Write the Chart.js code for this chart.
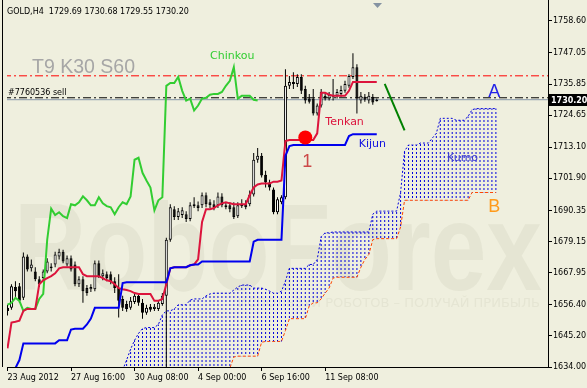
<!DOCTYPE html>
<html>
<head>
<meta charset="utf-8">
<script src="https://cdn.jsdelivr.net/npm/chart.js@4.4.1/dist/chart.umd.min.js"></script>
<style>
  html, body { margin: 0; padding: 0; background: #efefde; }
  canvas { display: block; }
</style>
</head>
<body>
<canvas id="chart" width="587" height="388" style="width:587px;height:388px"></canvas>
<script>
// GOLD H4 candles, bar 0 = 23 Aug 2012 00:00
const opens = [
  1655.3, 1655.3, 1662.8, 1663.1, 1658.9, 1673.8, 1669.5, 1668.4, 1665.6, 1666.0,
  1668.4, 1669.5, 1670.9, 1673.8, 1675.5, 1670.9, 1673.1, 1670.9, 1663.8, 1665.6,
  1662.4, 1662.0, 1662.0, 1671.3, 1666.7, 1667.4, 1667.4, 1664.9, 1662.4, 1658.5,
  1656.7, 1655.3, 1657.4, 1659.6, 1657.1, 1653.5, 1655.7, 1654.9, 1654.9, 1656.7,
  1659.6, 1679.8, 1690.8, 1688.0, 1688.7, 1689.0, 1687.3, 1691.9, 1692.2, 1692.2,
  1695.8, 1693.3, 1692.6, 1692.2, 1695.4, 1691.5, 1692.2, 1691.5, 1688.3, 1692.6,
  1692.6, 1692.6, 1696.1, 1708.6, 1710.0, 1703.2, 1700.4, 1697.9, 1689.7, 1693.3,
  1695.1, 1735.2, 1736.6, 1735.9, 1738.4, 1734.1, 1730.6, 1730.6, 1725.2, 1728.1,
  1731.6, 1730.6, 1731.3, 1731.6, 1732.3, 1733.4, 1735.2, 1738.4, 1741.9, 1729.9,
  1731.3, 1729.9, 1731.3, 1729.69
];
const highs = [
  1656.4, 1663.8, 1664.9, 1664.2, 1675.2, 1674.5, 1672.7, 1669.9, 1666.7, 1669.1,
  1673.1, 1671.3, 1675.5, 1676.6, 1676.2, 1674.1, 1674.1, 1672.0, 1666.7, 1666.7,
  1663.5, 1663.8, 1672.3, 1672.3, 1669.1, 1668.4, 1668.4, 1666.3, 1667.4, 1659.6,
  1657.8, 1659.2, 1661.0, 1660.6, 1658.5, 1656.4, 1656.7, 1656.7, 1658.1, 1660.6,
  1680.5, 1692.6, 1691.9, 1691.2, 1691.5, 1690.1, 1693.3, 1695.1, 1693.6, 1696.8,
  1696.8, 1694.4, 1694.0, 1696.8, 1696.5, 1693.3, 1693.3, 1693.3, 1693.3, 1694.4,
  1694.0, 1697.5, 1711.0, 1712.8, 1711.0, 1704.6, 1701.4, 1698.6, 1695.1, 1695.8,
  1741.2, 1738.7, 1740.1, 1739.4, 1739.4, 1735.2, 1732.3, 1734.1, 1728.8, 1734.1,
  1733.0, 1733.0, 1737.7, 1734.1, 1735.2, 1737.0, 1739.4, 1746.9, 1743.0, 1733.0,
  1732.3, 1733.0, 1732.3, 1730.68
];
const lows = [
  1652.5, 1654.6, 1658.9, 1657.1, 1658.1, 1668.4, 1668.4, 1664.9, 1662.8, 1664.9,
  1667.7, 1668.4, 1669.9, 1672.7, 1671.3, 1670.2, 1668.4, 1663.1, 1662.8, 1657.1,
  1659.6, 1661.0, 1661.3, 1666.0, 1665.2, 1664.9, 1663.8, 1660.6, 1651.8, 1654.2,
  1653.9, 1654.6, 1656.7, 1656.0, 1651.4, 1652.8, 1653.9, 1654.2, 1654.2, 1656.0,
  1633.8, 1679.1, 1686.9, 1686.9, 1687.6, 1686.2, 1686.5, 1691.2, 1690.1, 1691.2,
  1691.5, 1691.2, 1690.4, 1691.2, 1691.5, 1690.8, 1689.7, 1687.3, 1687.6, 1691.2,
  1690.8, 1691.9, 1695.4, 1707.5, 1702.2, 1698.6, 1697.5, 1689.0, 1689.0, 1692.6,
  1694.4, 1734.1, 1734.1, 1734.8, 1732.3, 1728.8, 1728.8, 1724.5, 1724.5, 1727.4,
  1729.9, 1729.9, 1729.9, 1730.6, 1731.3, 1732.7, 1734.5, 1737.7, 1725.2, 1728.8,
  1729.5, 1728.8, 1728.4, 1729.55
];
const closes = [
  1654.2, 1663.1, 1661.3, 1657.8, 1673.8, 1669.1, 1670.9, 1665.6, 1663.8, 1668.4,
  1672.0, 1670.2, 1674.5, 1675.5, 1672.0, 1673.1, 1669.1, 1663.8, 1665.6, 1661.3,
  1660.6, 1662.8, 1671.3, 1666.7, 1667.7, 1666.0, 1664.9, 1662.4, 1657.8, 1655.3,
  1654.9, 1657.8, 1659.6, 1657.1, 1653.5, 1655.3, 1654.6, 1655.7, 1657.1, 1659.6,
  1679.8, 1691.5, 1688.0, 1690.1, 1690.4, 1687.3, 1692.2, 1692.6, 1691.2, 1695.8,
  1692.6, 1692.2, 1691.5, 1695.4, 1692.2, 1692.2, 1690.8, 1688.0, 1692.2, 1691.9,
  1691.5, 1696.1, 1708.6, 1710.0, 1702.9, 1700.4, 1698.6, 1689.7, 1694.4, 1695.1,
  1735.2, 1736.6, 1735.9, 1738.4, 1733.4, 1729.9, 1729.5, 1725.2, 1728.1, 1733.0,
  1730.6, 1732.0, 1731.6, 1733.0, 1733.7, 1735.9, 1738.7, 1741.9, 1730.6, 1731.6,
  1730.2, 1731.6, 1729.2, 1730.20
];

// Ichimoku lines (T9 K30 S60)
const tenkan = [
  1640.7, 1650.0, 1650.3, 1650.7, 1654.2, 1654.9, 1654.9, 1654.9, 1663.8, 1665.2,
  1666.0, 1666.7, 1667.7, 1669.5, 1669.9, 1669.9, 1669.9, 1669.9, 1669.9, 1667.4,
  1666.7, 1666.7, 1666.7, 1666.7, 1666.0, 1665.2, 1664.9, 1663.8, 1662.4, 1662.0,
  1661.7, 1661.3, 1660.6, 1660.3, 1660.3, 1660.3, 1660.3, 1657.8, 1657.8, 1658.5,
  1663.8, 1669.5, 1669.9, 1669.9, 1669.9, 1669.9, 1670.6, 1670.9, 1672.7, 1686.2,
  1690.8, 1690.8, 1691.2, 1692.2, 1692.9, 1693.3, 1692.9, 1692.6, 1692.6, 1692.6,
  1692.6, 1695.8, 1698.6, 1699.7, 1700.0, 1700.0, 1700.0, 1700.7, 1700.7, 1701.1,
  1715.3, 1715.7, 1715.7, 1715.7, 1715.7, 1715.7, 1715.7, 1715.7, 1718.1, 1732.7,
  1732.7, 1732.0, 1731.6, 1731.6, 1731.6, 1731.6, 1733.4, 1736.6, 1736.6, 1736.6,
  1736.6, 1736.6, 1736.6, 1736.6
];
const kijun = [
  1632.9, 1633.3, 1633.6, 1636.5, 1642.5, 1642.5, 1642.5, 1642.5, 1642.5, 1642.5,
  1642.5, 1642.5, 1642.5, 1643.6, 1643.6, 1643.6, 1647.5, 1647.8, 1647.8, 1647.8,
  1649.3, 1651.4, 1655.3, 1655.3, 1655.3, 1655.3, 1655.3, 1655.3, 1655.3, 1664.2,
  1664.5, 1664.5, 1664.5, 1664.5, 1664.5, 1664.5, 1664.5, 1664.5, 1664.5, 1664.5,
  1664.5, 1669.5, 1669.9, 1669.9, 1669.9, 1669.9, 1670.6, 1670.9, 1670.9, 1672.0,
  1672.0, 1672.0, 1672.0, 1672.0, 1672.0, 1672.0, 1672.0, 1672.0, 1672.0, 1672.0,
  1672.0, 1672.0, 1679.1, 1679.8, 1679.8, 1679.8, 1679.8, 1679.8, 1679.8, 1679.8,
  1710.0, 1713.5, 1713.9, 1713.9, 1713.9, 1713.9, 1713.9, 1713.9, 1713.9, 1713.9,
  1713.9, 1713.9, 1713.9, 1713.9, 1713.9, 1713.9, 1717.1, 1717.8, 1717.8, 1717.8,
  1717.8, 1717.8, 1717.8, 1717.8
];
const chinkou = [
  1656.4, 1657.1, 1658.9, 1657.8, 1654.2, 1655.3, 1654.9, 1654.9, 1658.5, 1660.3,
  1679.8, 1691.0, 1688.7, 1689.7, 1688.3, 1687.6, 1692.6, 1692.2, 1693.3, 1695.4,
  1694.0, 1692.2, 1692.2, 1695.1, 1692.9, 1691.9, 1691.5, 1689.0, 1691.5, 1693.3,
  1692.6, 1695.4, 1708.6, 1709.3, 1703.9, 1701.1, 1698.6, 1690.4, 1694.0, 1695.1,
  1735.2, 1736.2, 1736.2, 1738.4, 1733.4, 1729.9, 1730.6, 1726.3, 1728.1, 1730.6,
  1730.9, 1732.0, 1732.3, 1732.3, 1733.0, 1735.2, 1737.0, 1741.9, 1730.6, 1731.6,
  1731.6, 1731.6, 1730.2, 1729.9
];

// Kumo, starting at bar 29 and running 30 bars past the last candle
const cloudStart = 29;
const senkouA = [
  1632.9, 1636.5, 1640.4, 1643.6, 1646.1, 1647.8, 1648.2, 1648.2, 1648.2, 1649.3,
  1652.8, 1654.2, 1654.2, 1654.9, 1656.4, 1656.4, 1656.4, 1658.1, 1658.5, 1658.5,
  1658.5, 1659.6, 1660.3, 1660.6, 1660.6, 1660.6, 1660.6, 1660.6, 1661.7, 1662.8,
  1663.5, 1663.5, 1663.5, 1662.4, 1662.4, 1662.4, 1662.0, 1661.3, 1660.6, 1660.6,
  1661.3, 1664.9, 1669.5, 1669.5, 1669.5, 1669.5, 1669.5, 1670.9, 1670.9, 1672.7,
  1680.9, 1682.3, 1682.3, 1682.6, 1682.6, 1682.6, 1682.6, 1682.6, 1682.6, 1682.6,
  1682.6, 1682.6, 1682.6, 1689.0, 1690.1, 1690.1, 1690.1, 1690.1, 1690.1, 1690.1,
  1696.8, 1711.7, 1713.9, 1713.9, 1713.9, 1714.6, 1714.6, 1714.6, 1716.4, 1718.1,
  1723.5, 1723.5, 1723.5, 1723.5, 1722.8, 1722.8, 1722.8, 1724.2, 1726.6, 1727.0,
  1727.0, 1727.0, 1727.0, 1727.0, 1727.0
];
const senkouB = [
  1632.0, 1632.0, 1632.0, 1632.0, 1632.0, 1632.0, 1632.0, 1632.0, 1632.0, 1632.0,
  1632.0, 1632.0, 1632.0, 1632.0, 1633.6, 1633.6, 1633.6, 1633.6, 1633.6, 1633.6,
  1633.6, 1633.6, 1633.6, 1633.6, 1633.6, 1633.6, 1633.6, 1633.6, 1637.6, 1637.9,
  1637.9, 1637.9, 1637.9, 1637.9, 1637.9, 1642.9, 1643.2, 1643.2, 1643.2, 1643.2,
  1643.2, 1647.1, 1651.4, 1651.4, 1651.4, 1651.4, 1651.4, 1656.0, 1657.1, 1657.1,
  1658.5, 1660.6, 1662.4, 1666.0, 1666.3, 1666.3, 1666.3, 1666.3, 1666.3, 1666.3,
  1669.9, 1672.7, 1674.5, 1679.8, 1680.2, 1680.2, 1680.2, 1680.2, 1680.2, 1680.2,
  1684.4, 1694.0, 1694.0, 1694.0, 1694.0, 1694.0, 1694.0, 1694.0, 1694.0, 1694.0,
  1694.0, 1694.0, 1694.0, 1694.0, 1694.0, 1694.0, 1694.0, 1694.0, 1696.8, 1696.8,
  1696.8, 1696.8, 1696.8, 1696.8, 1696.8
];

const xTickBars = [0, 16, 32, 48, 64, 80];
const xTickLabels = ['23 Aug 2012', '27 Aug 16:00', '30 Aug 08:00', '4 Sep 00:00', '6 Sep 16:00', '11 Sep 08:00'];
const yTickValues = [1634.00, 1645.20, 1656.40, 1667.95, 1679.15, 1690.35, 1701.90, 1713.10, 1724.65, 1735.85, 1747.05, 1758.60];

const resistanceLevel = 1738.8;
const orderLevel = 1730.9;
const bidLevel = 1730.20;
const trendBars = [95, 100];
const trendPrices = [1735.9, 1719.2];
const signalBars = [75];
const signalPrices = [1716.6];

const BG = '#efefde';
const X_MIN = -0.125, X_MAX = 136.125;   // 4 px per bar
const Y_MIN = 1634, Y_MAX = 1763.57;

Chart.defaults.font.family = '"DejaVu Sans", sans-serif';
Chart.defaults.font.size = 8;
Chart.defaults.color = '#000';

const canvas = document.getElementById('chart');

function dotPattern(color) {
  const tile = document.createElement('canvas');
  tile.width = 1;
  tile.height = 4;
  const t = tile.getContext('2d');
  t.fillStyle = color;
  t.fillRect(0, 0, 1, 2);
  return canvas.getContext('2d').createPattern(tile, 'repeat');
}

const pts = (arr, start = 0) => arr.map((v, k) => ({ x: start + k, y: v }));
const hline = lvl => [{ x: X_MIN - 1, y: lvl }, { x: X_MAX + 1, y: lvl }];
const bars = opens.map((_, i) => i);

const lineBase = { type: 'line', pointRadius: 0, tension: 0, fill: false };
const barBase = { type: 'bar', grouped: false, inflateAmount: 0, borderSkipped: false };

// text annotations in bar/price coordinates
const notes = [
  { text: 'Chinkou', bar: 56.6, price: 1745.9, color: '#32cd32', font: '11px "DejaVu Sans"' },
  { text: 'Tenkan', bar: 84.9, price: 1722.0, color: '#dc143c', font: '11px "DejaVu Sans"' },
  { text: 'Kijun', bar: 91.9, price: 1714.3, color: '#1010e0', font: '11px "DejaVu Sans"' },
  { text: 'Kumo', bar: 114.6, price: 1709.3, color: '#3535d0', font: '11px "DejaVu Sans"' },
  { text: '1', bar: 75.5, price: 1707.8, color: '#cc4848', font: '18px "Liberation Sans"' },
  { text: 'A', bar: 122.6, price: 1732.9, color: '#2222e8', font: '18px "Liberation Sans"' },
  { text: 'B', bar: 122.6, price: 1691.5, color: '#ff9a1a', font: '18px "Liberation Sans"' }
];

const decor = {
  id: 'decor',
  beforeDraw(chart) {
    const { ctx, chartArea: a, width, height } = chart;
    ctx.save();
    ctx.fillStyle = BG;
    ctx.fillRect(0, 0, width, height);
    ctx.beginPath();
    ctx.rect(a.left, 0, a.right - a.left, a.bottom);
    ctx.clip();
    ctx.fillStyle = '#e5e5d3';
    ctx.font = 'bold 124px "Liberation Sans"';
    const w = ctx.measureText('RoboForex').width;
    ctx.save();
    ctx.translate(14, 290);
    ctx.scale(528 / w, 1);
    ctx.fillText('RoboForex', 0, 0);
    ctx.restore();
    ctx.font = '13px "DejaVu Sans"';
    ctx.textAlign = 'right';
    ctx.fillText('ИСПОЛЬЗУЙ РОБОТОВ – ПОЛУЧАЙ ПРИБЫЛЬ', 540, 307);
    ctx.restore();
  },
  afterDatasetsDraw(chart) {
    const { ctx, scales: { x, y } } = chart;
    ctx.save();
    ctx.textAlign = 'left';
    ctx.textBaseline = 'alphabetic';
    ctx.fillStyle = '#a6a6a6';
    ctx.font = '19.5px "Liberation Sans"';
    ctx.fillText('T9 K30 S60', 32, 73);
    ctx.fillStyle = '#000';
    ctx.font = '8px "DejaVu Sans"';
    ctx.fillText('GOLD,H4  ' + [opens, highs, lows, closes].map(s => s[s.length - 1].toFixed(2)).join(' '), 7, 14);
    ctx.fillText('#7760536 sell', 8, y.getPixelForValue(orderLevel) - 3);
    ctx.textAlign = 'center';
    ctx.textBaseline = 'middle';
    notes.forEach(n => {
      ctx.fillStyle = n.color;
      ctx.font = n.font;
      ctx.fillText(n.text, x.getPixelForValue(n.bar), y.getPixelForValue(n.price));
    });
    ctx.restore();
  },
  afterDraw(chart) {
    const { ctx, chartArea: a, scales: { x, y } } = chart;
    ctx.save();
    ctx.strokeStyle = '#000';
    ctx.lineWidth = 1;
    ctx.beginPath();
    ctx.moveTo(2.5, 0); ctx.lineTo(2.5, a.bottom);
    ctx.moveTo(a.right + 0.5, 0); ctx.lineTo(a.right + 0.5, a.bottom);
    ctx.stroke();
    // shift marker above the last bar
    const mx = Math.round(x.getPixelForValue(bars.length - 1)) + 0.5;
    ctx.fillStyle = '#8593a2';
    ctx.beginPath();
    ctx.moveTo(mx - 4.5, 3); ctx.lineTo(mx + 4.5, 3); ctx.lineTo(mx, 8);
    ctx.closePath();
    ctx.fill();
    // bid price tag
    const py = Math.round(y.getPixelForValue(bidLevel));
    ctx.fillStyle = '#000';
    ctx.fillRect(a.right, py - 6, 587 - a.right, 12);
    ctx.fillStyle = '#fff';
    ctx.font = 'bold 8px "DejaVu Sans"';
    ctx.textAlign = 'left';
    ctx.textBaseline = 'middle';
    ctx.fillText(bidLevel.toFixed(2), a.right + 3, py + 0.5);
    ctx.restore();
  }
};

new Chart(canvas, {
  type: 'bar',
  data: {
    datasets: [
      { ...lineBase, order: 1, showLine: false, data: signalBars.map((b, k) => ({ x: b, y: signalPrices[k] })),
        pointRadius: 7, pointBackgroundColor: '#ff0000', pointBorderWidth: 0 },
      { ...lineBase, order: 2, data: trendBars.map((b, k) => ({ x: b, y: trendPrices[k] })),
        borderColor: '#008000', borderWidth: 2 },
      { ...lineBase, order: 3, data: pts(kijun), borderColor: '#0000ee', borderWidth: 2 },
      { ...lineBase, order: 4, data: pts(tenkan), borderColor: '#dc143c', borderWidth: 2 },
      { ...lineBase, order: 5, data: pts(chinkou), borderColor: '#32cd32', borderWidth: 2 },
      { ...barBase, order: 6, barThickness: 3,
        data: bars.map(i => ({ x: i, y: [opens[i], closes[i]] })),
        backgroundColor: bars.map(i => closes[i] >= opens[i] ? '#ffffff' : '#000000'),
        borderColor: '#000', borderWidth: 1 },
      { ...barBase, order: 7, barThickness: 1, borderWidth: 0,
        data: bars.map(i => ({ x: i, y: [lows[i], highs[i]] })), backgroundColor: '#000' },
      { ...lineBase, order: 8, data: hline(bidLevel), borderColor: '#8797a8', borderWidth: 1 },
      { ...lineBase, order: 8, data: hline(orderLevel), borderColor: '#000', borderWidth: 1, borderDash: [8, 3, 2, 3] },
      { ...lineBase, order: 8, data: hline(resistanceLevel), borderColor: '#ff0000', borderWidth: 1, borderDash: [8, 3, 2, 3] },
      { ...lineBase, order: 9, data: pts(senkouB, cloudStart), borderColor: '#ff4500', borderWidth: 1, borderDash: [3, 2] },
      { ...lineBase, order: 9, data: pts(senkouA, cloudStart), borderColor: '#0000dd', borderWidth: 1, borderDash: [2, 2] },
      { ...barBase, order: 10, barThickness: 1, borderWidth: 0,
        data: senkouA.map((v, k) => ({ x: cloudStart + k, y: [senkouB[k], v] })),
        backgroundColor: dotPattern('#0000dd') }
    ]
  },
  options: {
    responsive: false,
    animation: false,
    devicePixelRatio: 1,
    events: [],
    layout: { padding: { left: 3, top: 2, right: 0, bottom: 0 } },
    plugins: { legend: { display: false }, tooltip: { enabled: false } },
    scales: {
      x: {
        type: 'linear', min: X_MIN, max: X_MAX, offset: false,
        grid: { offset: false, drawOnChartArea: false, drawTicks: true, tickLength: 4, color: '#000' },
        border: { display: true, color: '#000' },
        ticks: {
          autoSkip: false, maxRotation: 0, minRotation: 0, align: 'start', padding: 2,
          color: '#000', font: { size: 8 },
          callback: v => xTickLabels[xTickBars.indexOf(v)] ?? ''
        },
        afterBuildTicks: s => { s.ticks = xTickBars.map(v => ({ value: v })); },
        afterFit: s => { s.height = 21; s.paddingLeft = 0; s.paddingRight = 0; }
      },
      y: {
        position: 'right', min: Y_MIN, max: Y_MAX, beginAtZero: false,
        grid: { drawOnChartArea: false, drawTicks: true, tickLength: 4, color: '#000' },
        border: { display: true, color: '#000' },
        ticks: { padding: 1, color: '#000', font: { size: 8 }, callback: v => Number(v).toFixed(2) },
        afterBuildTicks: s => { s.ticks = yTickValues.map(v => ({ value: v })); },
        afterFit: s => { s.width = 39; s.paddingTop = 0; s.paddingBottom = 0; }
      }
    }
  },
  plugins: [decor]
});
</script>
</body>
</html>
